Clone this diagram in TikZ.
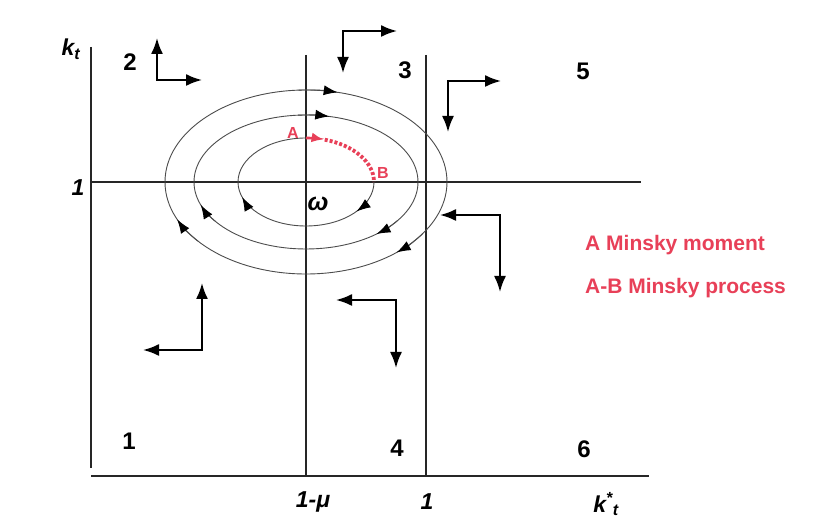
\documentclass[tikz,border=0pt]{standalone}
\usepackage{fontspec}
\setmainfont{Liberation Sans}
\usetikzlibrary{arrows.meta}
\definecolor{minsky}{RGB}{232,64,88}

\begin{document}
\begin{tikzpicture}[x=1pt, y=1pt,
  axis/.style={line width=1.2pt, black!85},
  orbit/.style={line width=0.9pt, black!70},
  orbittip/.style={orbit, -{Latex[length=14pt,width=10pt,black]}},
  flow/.style={line width=2pt, {Latex[length=16pt,width=12pt]}-{Latex[length=16pt,width=12pt]}},
  zone/.style={inner sep=0pt, font=\fontsize{24}{28}\selectfont\bfseries},
  axlabel/.style={inner sep=0pt, font=\fontsize{23}{27}\selectfont\bfseries\itshape},
  redlabel/.style={inner sep=0pt, text=minsky, font=\fontsize{21}{25}\selectfont\bfseries}]
  \useasboundingbox (0,0) rectangle (815,525);
  \fill[white] (0,0) rectangle (815,525);

  % Axes and boundaries
  \coordinate (ytop) at (91,478);
  \coordinate (ybot) at (91,57);
  \coordinate (xleft) at (91,49);
  \coordinate (xright) at (649,49);
  \coordinate (hleft) at (91,343);
  \coordinate (hright) at (641,343);
  \coordinate (mutop) at (306,470);
  \coordinate (mubot) at (306,49);
  \coordinate (onetop) at (426,470);
  \coordinate (onebot) at (426,49);
  \draw[axis] (ytop) -- (ybot);
  \draw[axis] (xleft) -- (xright);
  \draw[axis] (hleft) -- (hright);
  \draw[axis] (mutop) -- (mubot);
  \draw[axis] (onetop) -- (onebot);

  % Axis labels
  \node[axlabel] (kt) at (71,476) {k\textsubscript{t}};
  \node[axlabel] (oney) at (78,337) {1};
  \node[axlabel] (mu) at (313,23) {1-μ};
  \node[axlabel] (onex) at (427,23) {1};
  \node[axlabel] (kstar) at (606,21) {k\textsuperscript{*}\textsubscript{t}};

  % Zones
  \node[zone] (z1) at (129,84) {1};
  \node[zone] (z2) at (130,463) {2};
  \node[zone] (z3) at (405,455) {3};
  \node[zone] (z4) at (397,77) {4};
  \node[zone] (z5) at (583,454) {5};
  \node[zone] (z6) at (584,76) {6};

  % Orbits round omega
  \coordinate (w) at (306,343);
  \draw[orbit] (w) ellipse[x radius=141pt, y radius=92pt];
  \draw[orbit] (w) ellipse[x radius=112pt, y radius=67pt];
  \draw[orbit] (w) ++(90:68pt and 44pt) arc[start angle=90, end angle=360, x radius=68pt, y radius=44pt];
  \foreach \rx/\ry/\a in {141/92/77, 141/92/-50, 141/92/204, 112/67/78, 112/67/-51, 112/67/200, 68/44/-42, 68/44/200}
    \draw[orbittip] (w) ++(\a+16:\rx pt and \ry pt) arc[start angle=\a+16, end angle=\a, x radius=\rx pt, y radius=\ry pt];
  \node[axlabel, font=\fontsize{25}{28}\selectfont\bfseries\itshape] (omega) at (318,321) {ω};

  % Minsky process A-B
  \draw[minsky, line width=2.6pt, -{Latex[length=12pt,width=10pt]}] (w) ++(90:68pt and 44pt) arc[start angle=90, end angle=75, x radius=68pt, y radius=44pt];
  \draw[minsky, line width=3.8pt, dash pattern=on 3pt off 2pt] (w) ++(74:68pt and 44pt) arc[start angle=74, end angle=0, x radius=68pt, y radius=44pt];
  \node[redlabel, font=\fontsize{16}{19}\selectfont\bfseries] (A) at (293,392) {A};
  \node[redlabel, font=\fontsize{16}{19}\selectfont\bfseries] (B) at (383,352) {B};

  % Direction of motion
  \foreach \n/\cx/\cy/\vy/\hx in {d2/157/445/487/202, d3/343/494/452/397, d5/448/444/393/501,
                                 dr/500/310/233/440, dl/202/175/242/143, dm/396/225/157/336} {
    \coordinate (\n-c) at (\cx,\cy);
    \coordinate (\n-v) at (\cx,\vy);
    \coordinate (\n-h) at (\hx,\cy);
    \draw[flow] (\n-v) -- (\n-c) -- (\n-h);
  }

  % Legend
  \node[redlabel, anchor=west] (moment) at (585,280) {A Minsky moment};
  \node[redlabel, anchor=west] (process) at (585,237) {A-B Minsky process};
\end{tikzpicture}
\end{document}
